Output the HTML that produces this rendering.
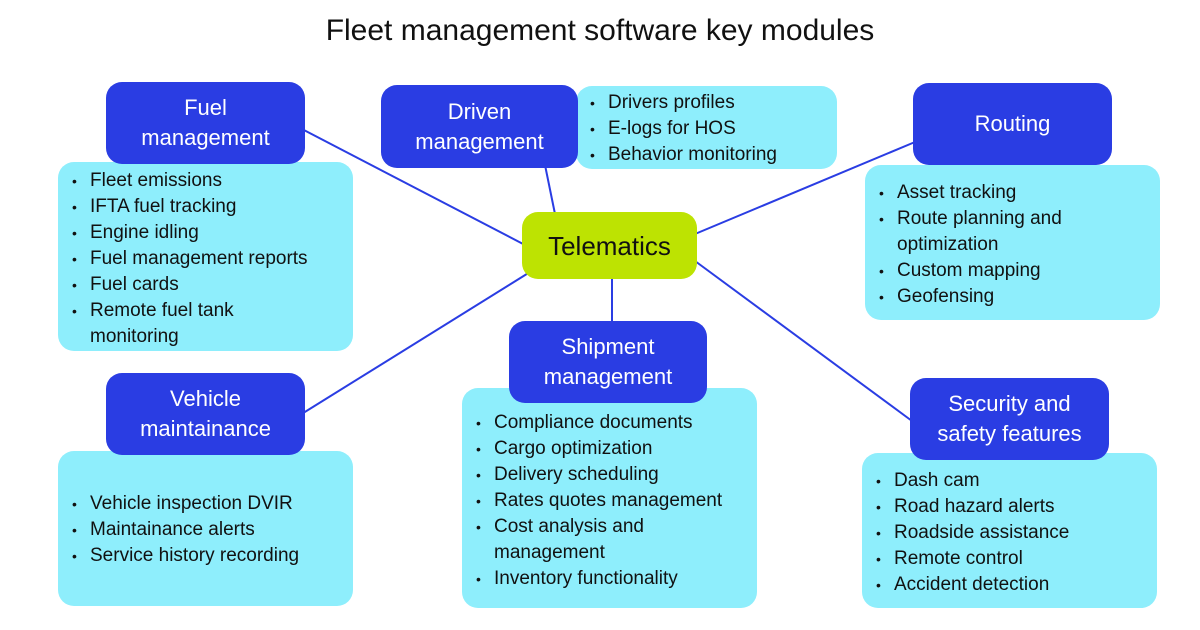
<!DOCTYPE html>
<html><head><style>
body{margin:0;width:1200px;height:630px;background:#fff;position:relative;overflow:hidden;font-family:"Liberation Sans",sans-serif;}
.h{position:absolute;background:#2a3de3;color:#fff;border-radius:16px;text-align:center;font-size:22px;line-height:30px;display:flex;align-items:center;justify-content:center;}
.l{position:absolute;background:#8eeefc;border-radius:16px;color:#111;font-size:19px;line-height:26px;box-sizing:border-box;}
.l div{position:relative;padding-left:32px;}
.l div.b::before{content:"•";position:absolute;left:14px;font-size:14px;}
svg{position:absolute;left:0;top:0}
</style></head><body>
<div style="position:absolute;left:0;top:14px;width:1200px;text-align:center;font-size:30px;color:#111">Fleet management software key modules</div>
<svg width="1200" height="630"><g stroke="#2a3de3" stroke-width="2">
<line x1="300" y1="128" x2="525" y2="245"/><line x1="545" y1="165" x2="555" y2="214"/>
<line x1="915" y1="142" x2="695" y2="234"/><line x1="300" y1="415" x2="530" y2="272"/>
<line x1="612" y1="277" x2="612" y2="323"/><line x1="912" y1="421" x2="695" y2="261"/></g></svg>
<div class="l" style="left:58px;top:162px;width:295px;height:189px;padding-top:6px"><div class="b">Fleet emissions</div><div class="b">IFTA fuel tracking</div><div class="b">Engine idling</div><div class="b">Fuel management reports</div><div class="b">Fuel cards</div><div class="b">Remote fuel tank</div><div>monitoring</div></div>
<div class="h" style="left:106px;top:82px;width:199px;height:82px">Fuel<br>management</div>
<div class="l" style="left:576px;top:86px;width:261px;height:83px;padding-top:4px"><div class="b">Drivers profiles</div><div class="b">E-logs for HOS</div><div class="b">Behavior monitoring</div></div>
<div class="h" style="left:381px;top:85px;width:197px;height:83px">Driven<br>management</div>
<div class="l" style="left:865px;top:165px;width:295px;height:155px;padding-top:15px"><div class="b">Asset tracking</div><div class="b">Route planning and</div><div>optimization</div><div class="b">Custom mapping</div><div class="b">Geofensing</div></div>
<div class="h" style="left:913px;top:83px;width:199px;height:82px">Routing</div>
<div class="h" style="left:522px;top:212px;width:175px;height:67px;background:#bde302;color:#111;font-size:26px">Telematics</div>
<div class="l" style="left:58px;top:451px;width:295px;height:155px;padding-top:40px"><div class="b">Vehicle inspection DVIR</div><div class="b">Maintainance alerts</div><div class="b">Service history recording</div></div>
<div class="h" style="left:106px;top:373px;width:199px;height:82px">Vehicle<br>maintainance</div>
<div class="l" style="left:462px;top:388px;width:295px;height:220px;padding-top:22px"><div class="b">Compliance documents</div><div class="b">Cargo optimization</div><div class="b">Delivery scheduling</div><div class="b">Rates quotes management</div><div class="b">Cost analysis and</div><div>management</div><div class="b">Inventory functionality</div></div>
<div class="h" style="left:509px;top:321px;width:198px;height:82px">Shipment<br>management</div>
<div class="l" style="left:862px;top:453px;width:295px;height:155px;padding-top:15px"><div class="b">Dash cam</div><div class="b">Road hazard alerts</div><div class="b">Roadside assistance</div><div class="b">Remote control</div><div class="b">Accident detection</div></div>
<div class="h" style="left:910px;top:378px;width:199px;height:82px">Security and<br>safety features</div>
</body></html>
